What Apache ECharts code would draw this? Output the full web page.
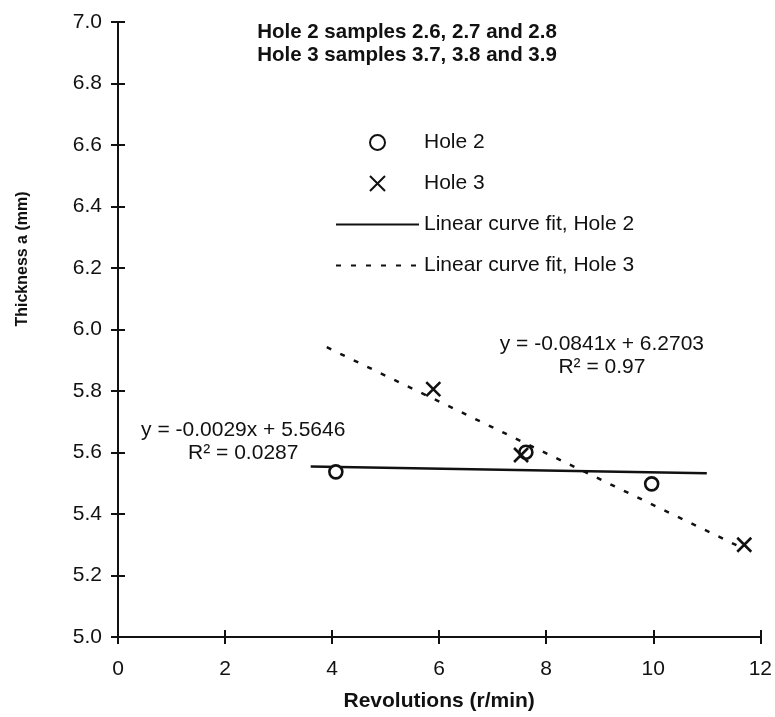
<!DOCTYPE html>
<html>
<head>
<meta charset="utf-8">
<script src="https://cdn.jsdelivr.net/npm/echarts@6.0.0/dist/echarts.min.js"></script>
<style>
  html, body { margin: 0; padding: 0; background: #fff; }
  #chart { width: 775px; height: 717px; }
</style>
</head>
<body>
<div id="chart"></div>
<script>
// Measured samples: revolutions (r/min) vs. thickness a (mm)
const hole2Rev = [4.07, 7.62, 9.97];
const hole2Thk = [5.537, 5.601, 5.498];
const hole3Rev = [5.89, 7.53, 11.70];
const hole3Thk = [5.806, 5.592, 5.300];

// Linear fits: [slope, intercept], R², and the x span each fit is drawn over
const fit2Coef = [-0.0029, 5.5646];
const fit2R2 = '0.0287';
const fit2Span = [3.6, 11.0];
const fit3Coef = [-0.0841, 6.2703];
const fit3R2 = '0.97';
const fit3Span = [3.9, 11.6];

// Where each equation block is centred (data coordinates)
const eq2Anchor = [2.34, 5.634];
const eq3Anchor = [9.04, 5.914];

const titleLines = ['Hole 2 samples 2.6, 2.7 and 2.8', 'Hole 3 samples 3.7, 3.8 and 3.9'];
const seriesNames = ['Hole 2', 'Hole 3', 'Linear curve fit, Hole 2', 'Linear curve fit, Hole 3'];
const xRange = [0, 12, 2];
const yRange = [5.0, 7.0, 0.2];

const FONT = "'Liberation Sans', Arial, Helvetica, sans-serif";
const INK = '#111';

const pairs = (xs, ys) => xs.map((x, i) => [x, ys[i]]);
const fitLine = (coef, span) => span.map(x => [x, coef[0] * x + coef[1]]);
const equation = (coef, r2) =>
  'y = ' + coef[0] + 'x + ' + coef[1] + '\nR\u00B2 = ' + r2;

const chart = echarts.init(document.getElementById('chart'), null, { renderer: 'canvas' });

const axisCommon = {
  type: 'value',
  splitLine: { show: false },
  axisLine: { show: true, onZero: false, lineStyle: { color: INK, width: 2 } },
  axisTick: { show: true, length: 7, lineStyle: { color: INK, width: 2 } }
};

// line-only legend entries: hide the default marker drawn on the line icon
const hiddenMarker = { color: 'rgba(0,0,0,0)', borderColor: 'rgba(0,0,0,0)', borderWidth: 0, opacity: 0 };

const option = {
  animation: false,
  backgroundColor: '#fff',
  textStyle: { fontFamily: FONT, color: INK },
  title: {
    text: titleLines.join('\n'),
    left: 407,
    top: 21,
    padding: 0,
    textAlign: 'center',
    textStyle: { fontFamily: FONT, fontSize: 20.5, fontWeight: 'bold', color: INK, lineHeight: 23 }
  },
  legend: {
    orient: 'vertical',
    left: 335,
    top: 132,
    padding: 0,
    itemWidth: 83,
    itemHeight: 15,
    itemGap: 20,
    selectedMode: false,
    data: [
      { name: seriesNames[0] },
      { name: seriesNames[1] },
      { name: seriesNames[2], itemStyle: hiddenMarker },
      { name: seriesNames[3], itemStyle: hiddenMarker }
    ],
    textStyle: { fontFamily: FONT, fontSize: 21, color: INK }
  },
  grid: { left: 118, right: 12, top: 22, bottom: 77, containLabel: false },
  xAxis: [
    Object.assign({}, axisCommon, {
      min: xRange[0], max: xRange[1], interval: xRange[2],
      name: 'Revolutions (r/min)',
      nameLocation: 'middle',
      nameGap: 54,
      nameTextStyle: { fontFamily: FONT, fontSize: 21, fontWeight: 'bold', color: INK },
      axisLabel: { margin: 22, fontFamily: FONT, fontSize: 21, color: INK }
    }),
    // inner half of the crossing tick marks
    Object.assign({}, axisCommon, {
      min: xRange[0], max: xRange[1], interval: xRange[2], position: 'bottom',
      axisLine: { show: false },
      axisTick: { show: true, inside: true, length: 7, lineStyle: { color: INK, width: 2 } },
      axisLabel: { show: false }
    })
  ],
  yAxis: [
    Object.assign({}, axisCommon, {
      min: yRange[0], max: yRange[1], interval: yRange[2],
      name: 'Thickness a (mm)',
      nameLocation: 'middle',
      nameGap: 87,
      nameTextStyle: { fontFamily: FONT, fontSize: 16, fontWeight: 'bold', color: INK,
                       padding: [0, 0, 0, 141] },
      axisLabel: { margin: 16, fontFamily: FONT, fontSize: 21, color: INK,
                   formatter: v => v.toFixed(1) }
    }),
    Object.assign({}, axisCommon, {
      min: yRange[0], max: yRange[1], interval: yRange[2], position: 'left',
      axisLine: { show: false },
      axisTick: { show: true, inside: true, length: 7, lineStyle: { color: INK, width: 2 } },
      axisLabel: { show: false }
    })
  ],
  series: [
    {
      name: seriesNames[2],
      type: 'line',
      data: fitLine(fit2Coef, fit2Span),
      symbol: 'none',
      color: INK,
      lineStyle: { color: INK, width: 2.5, type: 'solid' },
      z: 2
    },
    {
      name: seriesNames[3],
      type: 'line',
      data: fitLine(fit3Coef, fit3Span),
      symbol: 'none',
      color: INK,
      lineStyle: { color: INK, width: 2.5, type: [5, 10] },
      z: 2
    },
    {
      name: seriesNames[0],
      type: 'scatter',
      data: pairs(hole2Rev, hole2Thk),
      symbol: 'circle',
      symbolSize: 13,
      itemStyle: { color: '#fff', borderColor: INK, borderWidth: 2.6, opacity: 1 },
      z: 3
    },
    {
      name: seriesNames[1],
      type: 'scatter',
      data: pairs(hole3Rev, hole3Thk),
      symbol: 'path://M0,0L10,10M10,0L0,10',
      symbolSize: 14,
      itemStyle: { color: 'none', borderColor: INK, borderWidth: 2.6, opacity: 1 },
      z: 3
    }
  ]
};

chart.setOption(option);

// Equation / R² annotations beside each fit line
const p2 = chart.convertToPixel({ gridIndex: 0 }, eq2Anchor);
const p3 = chart.convertToPixel({ gridIndex: 0 }, eq3Anchor);
const eqStyle = (text) => ({
  text: text,
  font: '21px ' + FONT,
  fill: INK,
  align: 'center',
  verticalAlign: 'middle',
  lineHeight: 23
});
chart.setOption({
  graphic: [
    { type: 'text', x: p2[0], y: p2[1], style: eqStyle(equation(fit2Coef, fit2R2)), z: 10 },
    { type: 'text', x: p3[0], y: p3[1], style: eqStyle(equation(fit3Coef, fit3R2)), z: 10 }
  ]
});
</script>
</body>
</html>
